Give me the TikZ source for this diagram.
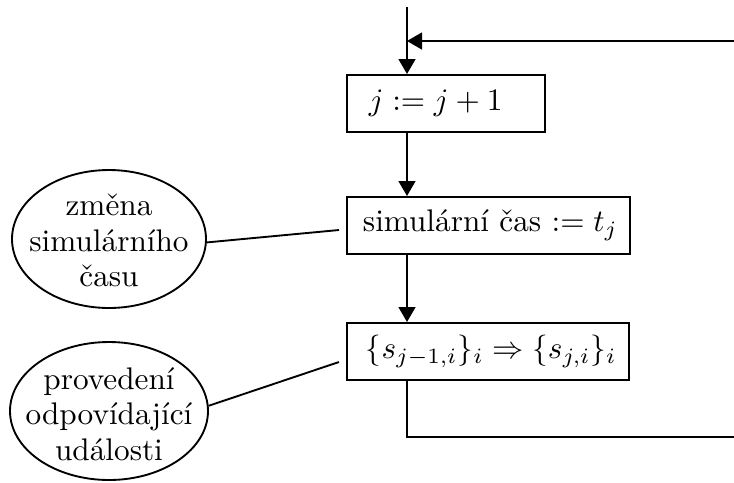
\documentclass[tikz,border=0pt]{standalone}
\usepackage{fontspec}
\usetikzlibrary{arrows.meta,shapes.geometric}
\begin{document}
\begin{tikzpicture}[x=0.32pt,y=-0.32pt, line width=0.6pt,
  >={Triangle[length=4.8pt,width=5.4pt]},
  box/.style={draw, anchor=north west, minimum height=18.24pt, align=left, inner ysep=0pt},
  ell/.style={draw, ellipse, inner sep=0pt},
  lbl/.style={align=center, inner sep=0pt, font=\fontsize{10pt}{11.4pt}\selectfont}]
\useasboundingbox (0,0) rectangle (734,482);

\node[box, text width=49.28pt, inner xsep=7.04pt] (b1) at (346,74) {\mbox{$j := j + 1$}};
\node[box, text width=80.32pt, inner xsep=5.12pt] (b2) at (346,196) {\mbox{simulární čas $:= t_j$}};
\node[box, text width=78.08pt, inner xsep=6.08pt] (b3) at (346,322) {\mbox{$\{s_{j-1,i}\}_i \Rightarrow \{s_{j,i}\}_i$}};

\node[ell, minimum width=62.08pt, minimum height=44.16pt] (e1) at (109,239) {};
\node[lbl] (t1) at ([yshift=-0.5pt]e1) {změna\\simulárního\\času};
\node[ell, minimum width=63.36pt, minimum height=44.16pt] (e2) at (109,411) {};
\node[lbl] (t2) at ([yshift=-1pt]e2) {provedení\\odpovídající\\události};

\coordinate (top) at (407,7);
\coordinate (fb) at (734,41);
\coordinate (bot) at (734,437);
\coordinate (c1) at (339,230);
\coordinate (c2) at (339,362);

\draw[->] (top) -- (top |- b1.north);
\draw[->] (fb) -- (fb -| top);
\draw[->] (top |- b1.south) -- (top |- b2.north);
\draw[->] (top |- b2.south) -- (top |- b3.north);
\draw (top |- b3.south) -- (top |- bot) -- (bot);
\draw (e1.-2) -- (c1);
\draw (e2.3) -- (c2);
\end{tikzpicture}
\end{document}
